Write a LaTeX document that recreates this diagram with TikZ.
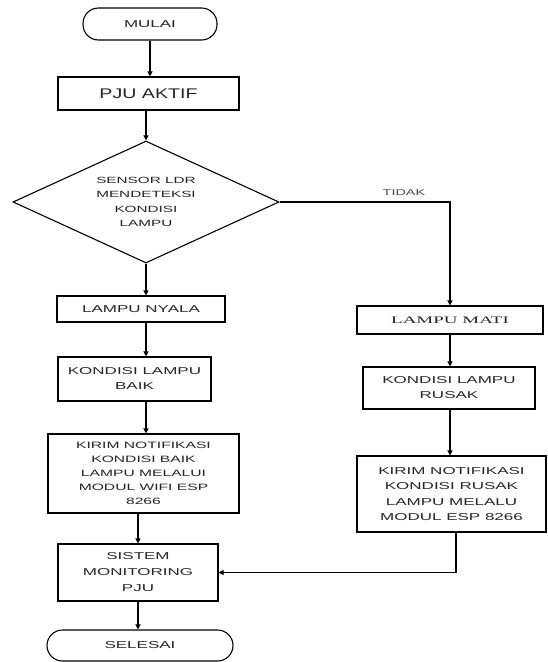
\documentclass[tikz,border=0pt]{standalone}
\usepackage{fontspec}
\usetikzlibrary{arrows.meta,shapes.geometric}
\newfontfamily\boxfont{Liberation Sans}[FakeStretch=1.7]
\newfontfamily\pjufont{Liberation Sans}[FakeStretch=1.4]
\newfontfamily\serfont{Liberation Serif}[FakeStretch=1.9]
\tikzset{
  base/.style={draw=black, line width=1.1pt, text=black!85, align=center, inner sep=0pt,
    font=\boxfont\fontsize{10}{15}\selectfont},
  term/.style={base, rounded corners=15.5pt},
  proc/.style={base, rectangle},
  dec/.style={base, diamond, aspect=2.2, font=\boxfont\fontsize{9}{14.5}\selectfont},
  arr/.style={draw=black, line width=1.1pt, -{Triangle[length=5pt,width=5pt]}},
}
\begin{document}
\begin{tikzpicture}[x=1pt,y=-1pt]
\useasboundingbox[fill=white] (0,0) rectangle (548,662);
% left column
\node[term, minimum width=134pt, minimum height=32pt] (mulai) at (150,24) {MULAI};
\node[proc, minimum width=181pt, minimum height=33pt, font=\pjufont\fontsize{14}{16}\selectfont] (pju) at (148.5,93.5) {PJU AKTIF};
\node[dec, minimum width=266pt, minimum height=122pt] (dia) at (146,202) {SENSOR LDR\\MENDETEKSI\\KONDISI\\LAMPU};
\node[proc, minimum width=168pt, minimum height=26pt] (nyala) at (141,309) {LAMPU NYALA};
\node[proc, minimum width=153pt, minimum height=44pt] (baik) at (134.5,379) {KONDISI LAMPU\\BAIK};
\node[proc, minimum width=191pt, minimum height=79pt, font=\boxfont\fontsize{9.2}{14}\selectfont] (kirimL) at (143.5,473.5) {KIRIM NOTIFIKASI\\KONDISI BAIK\\LAMPU MELALUI\\MODUL WIFI ESP\\8266};
\node[proc, minimum width=160pt, minimum height=57pt, font=\boxfont\fontsize{10}{16}\selectfont] (sistem) at (138,572.5) {SISTEM\\MONITORING\\PJU};
\node[term, minimum width=186pt, minimum height=31pt] (selesai) at (140,645.5) {SELESAI};
% right column
\node[proc, minimum width=186pt, minimum height=28pt, font=\serfont\fontsize{10}{12}\selectfont] (mati) at (450,320) {LAMPU MATI};
\node[proc, minimum width=172pt, minimum height=42pt] (rusak) at (449,388) {KONDISI LAMPU\\RUSAK};
\node[proc, minimum width=189pt, minimum height=76pt, font=\boxfont\fontsize{10}{15.5}\selectfont] (kirimR) at (451.5,494) {KIRIM NOTIFIKASI\\KONDISI RUSAK\\LAMPU MELALU\\MODUL ESP 8266};
% connectors
\draw[arr] (mulai.south) -- (mulai.south |- pju.north);
\draw[arr] (pju.south -| dia.north) -- (dia.north);
\draw[arr] (dia.south) -- (dia.south |- nyala.north);
\draw[arr] (nyala.south -| dia.south) -- (baik.north -| dia.south);
\draw[arr] (baik.south -| dia.south) -- (kirimL.north -| dia.south);
\draw[arr] (kirimL.south -| sistem.north) -- (sistem.north);
\draw[arr] (sistem.south) -- (sistem.south |- selesai.north);
\draw[arr] (dia.east) -| node[pos=0.365, above=6pt, inner sep=0pt, text=black!70, font=\boxfont\fontsize{8.5}{9}\selectfont] (tidak) {TIDAK} (mati.north);
\draw[arr] (mati.south) -- (mati.south |- rusak.north);
\draw[arr] (rusak.south -| mati.south) -- (kirimR.north -| mati.south);
\draw[arr] ([xshift=4.5pt]kirimR.south) |- (sistem.east);
\end{tikzpicture}
\end{document}
